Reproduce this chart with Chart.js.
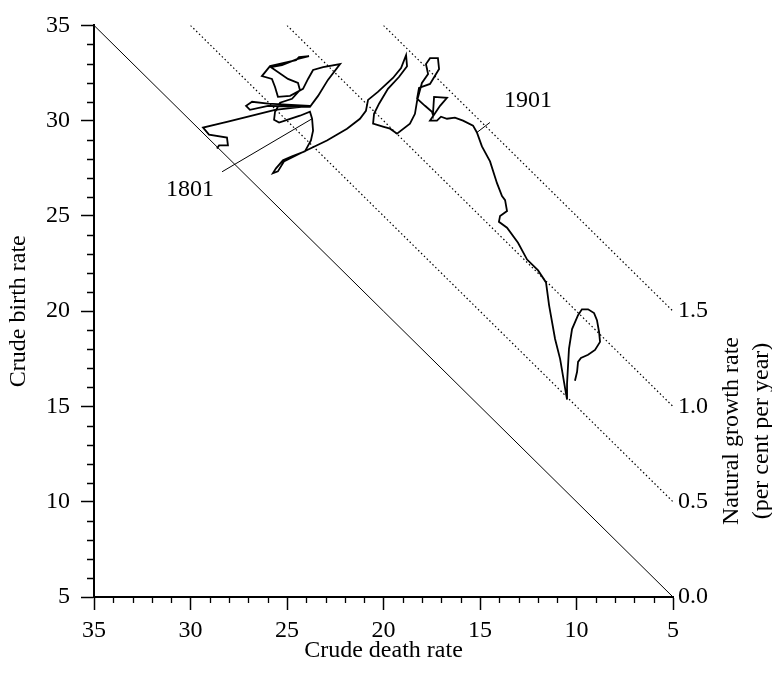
<!DOCTYPE html>
<html>
<head>
<meta charset="utf-8">
<script src="https://cdn.jsdelivr.net/npm/chart.js@4.4.1/dist/chart.umd.min.js"></script>
<style>
  html, body { margin: 0; padding: 0; background: #fff; }
  #wrap { width: 772px; height: 673px; }
</style>
</head>
<body>
<div id="wrap"><canvas id="rateChart" width="772" height="673"></canvas></div>
<script>
// Crude death / birth rates (per 1000), in time order
const deathRate = [
  28.63, 28.52, 28.06, 28.11, 29.04, 29.35, 28.06, 26.81, 25.62, 23.81,
  25.98, 26.81, 27.12, 26.92, 25.98, 23.81, 23.39, 22.88, 22.25, 23.13,
  23.65, 23.91, 24.17, 24.84, 25.47, 25.62, 25.78, 26.30, 25.88, 25.21,
  24.53, 24.38, 23.86, 24.48, 25.26, 25.83, 24.95, 24.43, 24.33, 24.74,
  25.36, 25.62, 25.67, 25.41, 24.95, 24.33, 23.81, 23.70, 23.65, 23.76,
  24.07, 24.74, 25.21, 25.57, 25.73, 25.47, 25.16, 24.33, 22.93, 21.89,
  21.22, 20.91, 20.80, 20.29, 19.51, 19.09, 18.83, 18.78, 19.20, 19.77,
  20.23, 20.49, 20.54, 20.03, 19.66, 19.30, 18.63, 18.37, 18.26, 18.01,
  17.69, 17.80, 17.59, 17.18, 17.12, 17.59, 18.16, 18.26, 17.85, 17.49,
  17.44, 17.38, 16.71, 17.07, 17.59, 17.23, 17.02, 16.71, 16.30, 15.88,
  15.36, 15.16, 14.90, 14.48, 14.12, 13.86, 13.70, 13.60, 13.96, 14.02,
  13.60, 13.03, 12.56, 11.99, 11.58, 11.42, 11.11, 10.85, 10.65, 10.49,
  10.49, 10.39, 10.23, 9.92, 9.72, 9.40, 9.09, 8.94, 8.83, 8.78,
  9.04, 9.40, 9.77, 9.92, 9.97, 10.08
];
const birthRate = [
  28.54, 28.70, 28.70, 29.11, 29.27, 29.64, 29.95, 30.26, 30.57, 30.78,
  30.89, 30.99, 30.78, 30.57, 30.78, 30.73, 31.30, 32.14, 32.97, 32.81,
  32.66, 32.19, 31.67, 31.30, 31.25, 31.77, 32.19, 32.34, 32.86, 33.02,
  33.18, 33.33, 33.39, 33.23, 32.92, 32.81, 32.19, 31.98, 31.61, 31.15,
  30.94, 30.47, 30.05, 29.90, 30.05, 30.26, 30.47, 30.10, 29.48, 28.96,
  28.39, 28.13, 27.92, 27.50, 27.24, 27.34, 27.86, 28.28, 28.96, 29.58,
  30.10, 30.52, 31.09, 31.51, 32.24, 32.76, 33.44, 32.86, 32.29, 31.67,
  30.89, 30.36, 29.84, 29.69, 29.58, 29.32, 29.84, 30.36, 31.04, 31.98,
  32.45, 32.97, 33.28, 33.28, 32.71, 31.93, 31.72, 31.15, 30.78, 30.47,
  30.31, 31.25, 31.20, 30.78, 30.00, 30.00, 30.21, 30.10, 30.16, 30.00,
  29.74, 29.38, 28.65, 27.86, 26.72, 26.04, 25.83, 25.26, 25.00, 24.69,
  24.38, 23.59, 22.71, 22.14, 21.51, 20.31, 18.54, 17.50, 16.30, 15.36,
  16.20, 18.02, 19.06, 19.79, 20.10, 20.10, 19.90, 19.53, 18.91, 18.39,
  17.97, 17.71, 17.55, 17.34, 16.82, 16.35
];
// labelled years and where they sit in the series
const yearLabels = ['1801', '1901'];
const yearIndex = [47, 101];
// natural growth rate iso-lines (per cent per year)
const growthRates = [0.0, 0.5, 1.0, 1.5];
const growthLabels = ['0.0', '0.5', '1.0', '1.5'];
const axisTicks = [5, 10, 15, 20, 25, 30, 35];

const FONT = "'Liberation Serif', 'DejaVu Serif', serif";
Chart.defaults.font.family = FONT;
Chart.defaults.font.size = 24;
Chart.defaults.color = '#000';

const AXIS_MIN = 5, AXIS_MAX = 35;

// one line per growth rate: birth = death + rate * 10
const growthSets = growthRates.map(function(r) {
  const g = r * 10;
  return {
    data: [{ x: AXIS_MAX - g, y: AXIS_MAX }, { x: AXIS_MIN, y: AXIS_MIN + g }],
    showLine: true,
    borderColor: '#000',
    borderWidth: r === 0 ? 1 : 1.2,
    borderDash: r === 0 ? [] : [1.5, 2.5],
    pointRadius: 0
  };
});

const pathSet = {
  data: deathRate.map(function(d, i) { return { x: d, y: birthRate[i] }; }),
  showLine: true,
  borderColor: '#000',
  borderWidth: 1.8,
  pointRadius: 0,
  tension: 0
};

// minor ticks, right-hand labels, year annotations
const extras = {
  id: 'extras',
  afterDraw: function(chart) {
    const ctx = chart.ctx;
    const xs = chart.scales.x, ys = chart.scales.y;
    const area = chart.chartArea;
    ctx.save();
    ctx.strokeStyle = '#000';
    ctx.lineWidth = 1.3;
    ctx.beginPath();
    for (let v = AXIS_MIN; v <= AXIS_MAX; v++) {
      if (axisTicks.indexOf(v) !== -1) continue;
      const px = Math.round(xs.getPixelForValue(v)) + 0.5;
      ctx.moveTo(px, area.bottom);
      ctx.lineTo(px, area.bottom + 6);
      const py = Math.round(ys.getPixelForValue(v)) + 0.5;
      ctx.moveTo(area.left, py);
      ctx.lineTo(area.left - 7, py);
    }
    ctx.stroke();

    // growth rate labels at the right end of each line
    ctx.fillStyle = '#000';
    ctx.font = '24px ' + FONT;
    ctx.textAlign = 'left';
    ctx.textBaseline = 'middle';
    growthRates.forEach(function(r, i) {
      const py = ys.getPixelForValue(AXIS_MIN + r * 10);
      ctx.fillText(growthLabels[i], xs.getPixelForValue(AXIS_MIN) + 5, py);
    });

    // right-hand title
    ctx.save();
    ctx.translate(area.right + 59, area.bottom - 166);
    ctx.rotate(-Math.PI / 2);
    ctx.textAlign = 'center';
    ctx.fillText('Natural growth rate', 0, 0);
    ctx.fillText('(per cent per year)', 0, 30);
    ctx.restore();

    // year labels with leader lines
    const offsets = [
      { lx: -90, ly: 53, tx: -122, ty: 71 },
      { lx: 13, ly: -10, tx: 51, ty: -32 }
    ];
    ctx.lineWidth = 1;
    ctx.textAlign = 'center';
    yearLabels.forEach(function(lbl, i) {
      const k = yearIndex[i];
      const px = xs.getPixelForValue(deathRate[k]);
      const py = ys.getPixelForValue(birthRate[k]);
      const o = offsets[i];
      ctx.beginPath();
      ctx.moveTo(px, py);
      ctx.lineTo(px + o.lx, py + o.ly);
      ctx.stroke();
      ctx.fillText(lbl, px + o.tx, py + o.ty);
    });
    ctx.restore();
  }
};

const ctx = document.getElementById('rateChart').getContext('2d');
new Chart(ctx, {
  type: 'scatter',
  data: { datasets: growthSets.concat([pathSet]) },
  options: {
    responsive: false,
    animation: false,
    layout: { padding: { left: 0, top: 21, right: 99, bottom: 0 } },
    plugins: {
      legend: { display: false },
      tooltip: { enabled: false }
    },
    scales: {
      x: {
        type: 'linear',
        reverse: true,
        min: AXIS_MIN,
        max: AXIS_MAX,
        afterBuildTicks: function(s) { s.ticks = axisTicks.map(function(v) { return { value: v }; }); },
        afterFit: function(s) { s.height = 76; },
        border: { display: true, color: '#000', width: 2 },
        grid: { drawOnChartArea: false, drawTicks: true, tickLength: 13, tickWidth: 1.5, tickColor: '#000' },
        ticks: { padding: 6, maxRotation: 0, font: { size: 24 }, color: '#000' },
        title: { display: true, text: 'Crude death rate', font: { size: 24 }, color: '#000', padding: { top: 0, bottom: 8 } }
      },
      y: {
        type: 'linear',
        min: AXIS_MIN,
        max: AXIS_MAX,
        afterBuildTicks: function(s) { s.ticks = axisTicks.map(function(v) { return { value: v }; }); },
        afterFit: function(s) { s.width = 94; },
        border: { display: true, color: '#000', width: 2 },
        grid: { drawOnChartArea: false, drawTicks: true, tickLength: 13, tickWidth: 1.5, tickColor: '#000' },
        ticks: { padding: 11, font: { size: 24 }, color: '#000' },
        title: { display: true, text: 'Crude birth rate', font: { size: 24 }, color: '#000', padding: { top: 4, bottom: 0 } }
      }
    }
  },
  plugins: [extras]
});
</script>
</body>
</html>
